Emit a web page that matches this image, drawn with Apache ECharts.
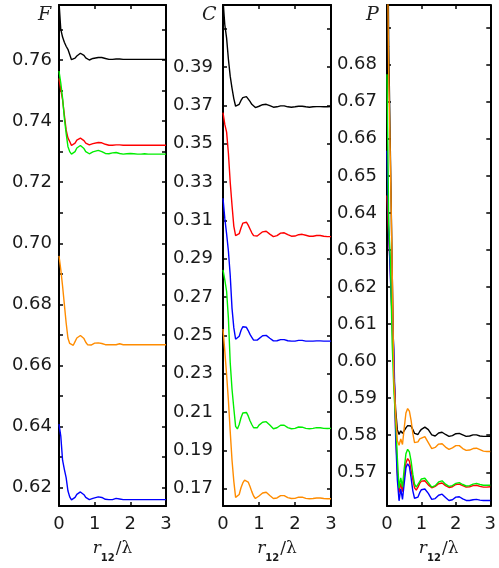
<!DOCTYPE html>
<html>
<head>
<meta charset="utf-8">
<script src="https://cdn.jsdelivr.net/npm/echarts/dist/echarts.min.js"></script>
<style>
  html, body { margin: 0; padding: 0; background: #ffffff; }
  #chart { width: 499px; height: 568px; }
</style>
</head>
<body>
<div id="chart"></div>
<script>
// x grid (r12 / lambda)
const X = [0,0.05,0.1,0.15,0.2,0.25,0.3,0.35,0.4,0.45,0.5,0.55,0.6,0.65,0.7,0.75,0.8,0.85,0.9,0.95,1.0,
           1.1,1.2,1.3,1.4,1.5,1.6,1.7,1.8,1.9,2.0,2.1,2.2,2.3,2.4,2.5,2.6,2.7,2.8,2.9,3.0];

// Panel F
const F_black  = [0.779,0.770,0.7675,0.7658,0.7645,0.7635,0.7618,0.7601,0.7600,0.7606,0.7613,0.7619,0.7622,0.7621,0.7615,0.7607,0.7601,0.7600,0.7602,0.7605,0.7607,
                  0.7608,0.7608,0.7605,0.7602,0.7602,0.7603,0.7603,0.7602,0.7602,0.7602,0.7602,0.7602,0.7602,0.7602,0.7602,0.7602,0.7602,0.7602,0.7602,0.7602];
const F_red    = [0.7540,0.7502,0.7470,0.7420,0.7371,0.7345,0.7333,0.7320,0.7319,0.7328,0.7338,0.7343,0.7344,0.7342,0.7336,0.7328,0.7323,0.7322,0.7323,0.7326,0.7329,
                  0.7330,0.7329,0.7324,0.7321,0.7321,0.7322,0.7322,0.7321,0.7321,0.7321,0.7321,0.7321,0.7321,0.7321,0.7321,0.7321,0.7321,0.7321,0.7321,0.7321];
const F_green  = [0.7564,0.7524,0.7475,0.7410,0.7360,0.7317,0.7300,0.7292,0.7290,0.7300,0.7312,0.7318,0.7320,0.7318,0.7310,0.7300,0.7294,0.7293,0.7294,0.7299,0.7303,
                  0.7304,0.7300,0.7294,0.7293,0.7296,0.7297,0.7294,0.7292,0.7293,0.7294,0.7293,0.7292,0.7292,0.7293,0.7292,0.7292,0.7292,0.7292,0.7292,0.7292];
const F_orange = [0.6959,0.6914,0.6860,0.6800,0.6740,0.6690,0.6672,0.6667,0.6666,0.6678,0.6690,0.6696,0.6698,0.6696,0.6688,0.6676,0.6668,0.6666,0.6667,0.6670,0.6673,
                  0.6674,0.6672,0.6668,0.6668,0.6668,0.6668,0.6671,0.6668,0.6668,0.6668,0.6668,0.6668,0.6668,0.6668,0.6668,0.6668,0.6668,0.6668,0.6668,0.6668];
const F_blue   = [0.6408,0.6369,0.6290,0.6260,0.6233,0.6190,0.6170,0.6160,0.6158,0.6168,0.6178,0.6184,0.6186,0.6184,0.6177,0.6168,0.6162,0.6161,0.6162,0.6165,0.6168,
                  0.6170,0.6168,0.6162,0.6161,0.6161,0.6165,0.6163,0.6161,0.6161,0.6161,0.6161,0.6161,0.6161,0.6161,0.6161,0.6161,0.6161,0.6161,0.6161,0.6161];

// Panel C
const C_black  = [0.425,0.412,0.405,0.394,0.3852,0.379,0.3735,0.3695,0.3690,0.3705,0.3725,0.3740,0.3745,0.3745,0.3735,0.3720,0.3705,0.3695,0.3688,0.3690,0.3695,
                  0.3703,0.3705,0.3698,0.3690,0.3692,0.3697,0.3697,0.3692,0.3690,0.3692,0.3695,0.3695,0.3692,0.3690,0.3692,0.3693,0.3693,0.3692,0.3692,0.3693];
const C_red    = [0.3662,0.3600,0.3560,0.3450,0.3300,0.3180,0.3070,0.3020,0.3015,0.3030,0.3060,0.3085,0.3092,0.3090,0.3075,0.3055,0.3035,0.3020,0.3014,0.3018,0.3028,
                  0.3040,0.3043,0.3028,0.3015,0.3020,0.3033,0.3035,0.3025,0.3017,0.3018,0.3025,0.3027,0.3022,0.3017,0.3017,0.3021,0.3021,0.3017,0.3015,0.3015];
const C_blue   = [0.3215,0.3110,0.3030,0.2940,0.2815,0.2642,0.2540,0.2480,0.2470,0.2495,0.2525,0.2545,0.2547,0.2542,0.2525,0.2505,0.2490,0.2475,0.2470,0.2475,0.2485,
                  0.2498,0.2500,0.2485,0.2471,0.2472,0.2478,0.2478,0.2472,0.2470,0.2470,0.2474,0.2474,0.2470,0.2470,0.2470,0.2471,0.2471,0.2470,0.2470,0.2470];
const C_green  = [0.2841,0.2790,0.2730,0.2590,0.2360,0.2220,0.2120,0.2025,0.2012,0.2035,0.2070,0.2095,0.2103,0.2098,0.2080,0.2055,0.2035,0.2018,0.2011,0.2018,0.2032,
                  0.2047,0.2050,0.2032,0.2013,0.2018,0.2031,0.2031,0.2019,0.2013,0.2015,0.2022,0.2021,0.2015,0.2013,0.2015,0.2019,0.2018,0.2015,0.2014,0.2015];
const C_orange = [0.2533,0.2418,0.2296,0.2160,0.2000,0.1850,0.1740,0.1655,0.1650,0.1670,0.1705,0.1730,0.1745,0.1747,0.1735,0.1712,0.1685,0.1662,0.1649,0.1652,0.1662,
                  0.1678,0.1682,0.1665,0.1649,0.1652,0.1664,0.1664,0.1654,0.1649,0.1650,0.1656,0.1656,0.1650,0.1648,0.1649,0.1652,0.1652,0.1649,0.1648,0.1648];

// Panel P
const P_black  = [0.740,0.685,0.655,0.625,0.597,0.587,0.5815,0.5802,0.5812,0.5805,0.5810,0.5820,0.5826,0.5828,0.5825,0.5815,0.5805,0.5800,0.5802,0.5810,0.5816,
                  0.5822,0.5815,0.5801,0.5798,0.5806,0.5808,0.5802,0.5797,0.5799,0.5804,0.5805,0.5801,0.5797,0.5798,0.5801,0.5801,0.5798,0.5797,0.5797,0.5797];
const P_red    = [0.6447,0.6340,0.6240,0.6100,0.5980,0.5820,0.5700,0.5645,0.5670,0.5648,0.5690,0.5725,0.5737,0.5730,0.5705,0.5680,0.5658,0.5652,0.5660,0.5670,0.5676,
                  0.5677,0.5666,0.5658,0.5662,0.5669,0.5671,0.5664,0.5659,0.5661,0.5667,0.5668,0.5664,0.5660,0.5661,0.5664,0.5665,0.5662,0.5660,0.5660,0.5661];
const P_blue   = [0.6568,0.6350,0.6220,0.6120,0.6030,0.5800,0.5680,0.5623,0.5655,0.5627,0.5670,0.5712,0.5723,0.5715,0.5685,0.5650,0.5630,0.5626,0.5633,0.5645,0.5653,
                  0.5655,0.5643,0.5627,0.5629,0.5638,0.5641,0.5632,0.5624,0.5626,0.5633,0.5634,0.5628,0.5624,0.5624,0.5626,0.5627,0.5625,0.5624,0.5624,0.5624];
const P_green  = [0.6774,0.6370,0.6270,0.6050,0.5920,0.5840,0.5740,0.5657,0.5685,0.5660,0.5710,0.5750,0.5762,0.5755,0.5730,0.5695,0.5668,0.5660,0.5665,0.5675,0.5682,
                  0.5684,0.5672,0.5660,0.5664,0.5674,0.5677,0.5668,0.5662,0.5664,0.5670,0.5672,0.5667,0.5663,0.5664,0.5668,0.5670,0.5667,0.5665,0.5665,0.5665];
const P_orange = [0.720,0.677,0.653,0.625,0.595,0.586,0.5785,0.5773,0.5790,0.5775,0.5820,0.5860,0.5872,0.5865,0.5840,0.5805,0.5780,0.5775,0.5782,0.5790,0.5795,
                  0.5796,0.5780,0.5764,0.5767,0.5776,0.5777,0.5768,0.5762,0.5766,0.5772,0.5772,0.5764,0.5759,0.5760,0.5764,0.5765,0.5761,0.5757,0.5756,0.5756];

// Axis ticks / labels
const xTicks = [0, 1, 2, 3];
const F_ticks  = [0.62,0.63,0.64,0.65,0.66,0.67,0.68,0.69,0.70,0.71,0.72,0.73,0.74,0.75,0.76,0.77];
const F_labels = [0.62,0.64,0.66,0.68,0.70,0.72,0.74,0.76];
const C_ticks  = [0.17,0.19,0.21,0.23,0.25,0.27,0.29,0.31,0.33,0.35,0.37,0.39,0.41];
const C_labels = [0.17,0.19,0.21,0.23,0.25,0.27,0.29,0.31,0.33,0.35,0.37,0.39];
const P_ticks  = [0.57,0.58,0.59,0.60,0.61,0.62,0.63,0.64,0.65,0.66,0.67,0.68,0.69];
const P_labels = [0.57,0.58,0.59,0.60,0.61,0.62,0.63,0.64,0.65,0.66,0.67,0.68];
const panelTitles = ['F', 'C', 'P'];

const COLORS = { black: '#000000', red: '#ff0000', green: '#00ee00', orange: '#ff8c00', blue: '#0000ff' };

const panels = [
  { ymin: 0.614, ymax: 0.778, ticks: F_ticks, labels: F_labels, margin: 7,
    grid: { left: 59, top: 5, width: 107, height: 503 },
    lines: [['black', F_black], ['red', F_red], ['blue', F_blue], ['green', F_green], ['orange', F_orange]] },
  { ymin: 0.161, ymax: 0.4223, ticks: C_ticks, labels: C_labels, margin: 10,
    grid: { left: 223, top: 5, width: 108, height: 504 },
    lines: [['black', C_black], ['red', C_red], ['blue', C_blue], ['green', C_green], ['orange', C_orange]] },
  { ymin: 0.5609, ymax: 0.6961, ticks: P_ticks, labels: P_labels, margin: 10,
    grid: { left: 387, top: 5, width: 107, height: 504 },
    lines: [['black', P_black], ['red', P_red], ['blue', P_blue], ['green', P_green], ['orange', P_orange]] }
];

const FONT = 'DejaVu Sans';
const axisLine = { show: true, onZero: false, lineStyle: { color: '#000', width: 2 } };
const tickStyle = { color: '#000', width: 1.5 };

const grids = [], xAxes = [], yAxes = [], series = [], titles = [];
panels.forEach((p, i) => {
  grids.push(Object.assign({ containLabel: false }, p.grid));
  // bottom x axis
  xAxes.push({
    type: 'value', gridIndex: i, position: 'bottom', min: 0, max: 3,
    axisLine: axisLine,
    axisTick: { show: true, inside: true, length: 4, customValues: xTicks, lineStyle: tickStyle },
    axisLabel: { show: true, customValues: xTicks, margin: 9, fontFamily: FONT, fontSize: 18, color: '#1a1a1a',
                 formatter: v => String(v) },
    splitLine: { show: false },
    name: '{r|r}{s|12}{n|/λ}',
    nameLocation: 'middle', nameGap: 34,
    nameTextStyle: {
      rich: {
        r: { fontFamily: 'DejaVu Serif', fontStyle: 'italic', fontSize: 17, color: '#1a1a1a', lineHeight: 22, verticalAlign: 'top' },
        s: { fontFamily: 'DejaVu Sans', fontWeight: 'bold', fontSize: 10, color: '#1a1a1a', lineHeight: 22, padding: [13, 1, 0, 0], verticalAlign: 'top' },
        n: { fontFamily: 'DejaVu Serif', fontSize: 17, color: '#1a1a1a', lineHeight: 22, verticalAlign: 'top' }
      }
    }
  });
  // top mirror axis
  xAxes.push({
    type: 'value', gridIndex: i, position: 'top', min: 0, max: 3,
    axisLine: axisLine,
    axisTick: { show: true, inside: true, length: 4, customValues: xTicks, lineStyle: tickStyle },
    axisLabel: { show: false },
    splitLine: { show: false }
  });
  // left y axis
  yAxes.push({
    type: 'value', gridIndex: i, position: 'left', min: p.ymin, max: p.ymax,
    axisLine: axisLine,
    axisTick: { show: true, inside: true, length: 4, customValues: p.ticks, lineStyle: tickStyle },
    axisLabel: { show: true, customValues: p.labels, margin: p.margin, fontFamily: FONT, fontSize: 18, color: '#1a1a1a',
                 formatter: v => v.toFixed(2) },
    splitLine: { show: false }
  });
  // right mirror axis
  yAxes.push({
    type: 'value', gridIndex: i, position: 'right', min: p.ymin, max: p.ymax,
    axisLine: axisLine,
    axisTick: { show: true, inside: true, length: 4, customValues: p.ticks, lineStyle: tickStyle },
    axisLabel: { show: false },
    splitLine: { show: false }
  });
  p.lines.forEach(([c, arr]) => {
    series.push({
      type: 'line', xAxisIndex: 2 * i, yAxisIndex: 2 * i,
      data: X.map((x, k) => [x, arr[k]]),
      showSymbol: false, symbol: 'none', clip: true, silent: true,
      lineStyle: { color: COLORS[c], width: 1.4 },
      animation: false
    });
  });
  titles.push({
    text: panelTitles[i],
    left: p.grid.left - 26, top: 1,
    textStyle: { fontFamily: 'DejaVu Serif', fontStyle: 'italic', fontWeight: 'normal', fontSize: 19, color: '#222' }
  });
});

const chart = echarts.init(document.getElementById('chart'), null, { renderer: 'canvas' });
chart.setOption({
  animation: false,
  backgroundColor: '#ffffff',
  title: titles,
  grid: grids,
  xAxis: xAxes,
  yAxis: yAxes,
  series: series
});
</script>
</body>
</html>
